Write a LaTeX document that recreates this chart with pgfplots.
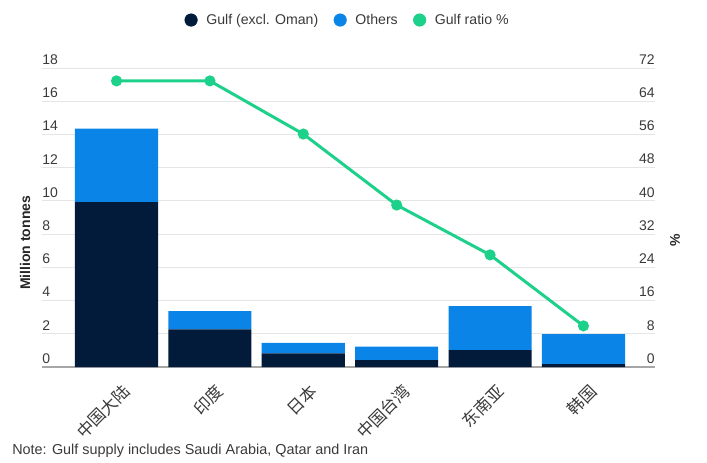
\documentclass[border=0pt]{standalone}
\usepackage{pgfplots}
\pgfplotsset{compat=1.18}
\usepackage{fontspec}
\setmainfont{Liberation Sans}
\newfontfamily\cjk{Noto Sans CJK SC}
\definecolor{navyc}{HTML}{021B3A}
\definecolor{bluec}{HTML}{0B84E8}
\definecolor{greenc}{HTML}{1ED18B}
\definecolor{txt}{HTML}{3A3A3A}
\begin{document}
\begin{tikzpicture}
\path[use as bounding box] (-31.5pt,-71.25pt) rectangle (498.75pt,275.25pt);
\begin{axis}[
  at={(0pt,0pt)}, anchor=south west,
  scale only axis, width=459.75pt, height=224.25pt,
  xmin=-0.798, xmax=5.766, ymin=0, ymax=18,
  ybar stacked, bar width=0.89,
  axis x line*=bottom, axis y line*=left,
  x axis line style={draw=black!35, line width=0.8pt},
  y axis line style={draw=none},
  xtick={0,1,2,3,4,5},
  xticklabels={中国大陆,印度,日本,中国台湾,东南亚,韩国},
  xtick style={draw=none}, ytick style={draw=none},
  ytick={0,2,...,18},
  ymajorgrids, grid style={black!10, line width=0.6pt},
  /pgf/number format/assume math mode=true,
  yticklabel style={anchor=south west, inner sep=0pt, yshift=2.5pt, font=\fontsize{10.5}{12}\selectfont, text=txt},
  xticklabel style={xshift=8.5pt, yshift=-15pt, rotate=45, anchor=east, inner sep=1pt, font=\cjk\fontsize{12.5}{14}\selectfont, text=txt},
  ylabel={Million tonnes},
  ylabel style={at={(axis description cs:-0.0277,0.415)}, anchor=center, font=\bfseries\fontsize{10.5}{12}\selectfont, text=black!85},
]
\addplot[fill=navyc, draw=none] coordinates {(0,9.93) (1,2.26) (2,0.82) (3,0.42) (4,1.02) (5,0.18)};
\addplot[fill=bluec, draw=none] coordinates {(0,4.42) (1,1.11) (2,0.64) (3,0.80) (4,2.65) (5,1.80)};
\end{axis}
\begin{axis}[
  at={(0pt,0pt)}, anchor=south west,
  scale only axis, width=459.75pt, height=224.25pt,
  xmin=-0.798, xmax=5.766, ymin=0, ymax=72,
  axis x line=none, axis y line*=right,
  y axis line style={draw=none}, ytick style={draw=none},
  ytick={0,8,...,72},
  /pgf/number format/assume math mode=true,
  yticklabel style={anchor=south east, inner sep=0pt, yshift=2.5pt, font=\fontsize{10.5}{12}\selectfont, text=txt},
  ylabel={\%},
  ylabel style={at={(axis description cs:1.0326,0.425)}, anchor=center, font=\bfseries\fontsize{10.5}{12}\selectfont, text=black!85},
  legend style={at={(axis description cs:0.504,1.1605)}, anchor=center, draw=none, fill=none,
    font=\fontsize{10.6}{12}\selectfont, text=txt,
    nodes={inner xsep=6.5pt},
    /tikz/every even column/.append style={column sep=5pt}},
  legend columns=3,
]
\addlegendimage{legend image code/.code={\fill[navyc] (0pt,0pt) circle (4.7pt);}}
\addlegendentry{Gulf (excl. Oman)}
\addlegendimage{legend image code/.code={\fill[bluec] (0pt,0pt) circle (4.7pt);}}
\addlegendentry{Others}
\addlegendimage{legend image code/.code={\fill[greenc] (0pt,0pt) circle (4.7pt);}}
\addlegendentry{Gulf ratio \%}
\addplot[greenc, line width=2.25pt, mark=*, mark size=3pt, mark options={fill=greenc, draw=greenc}, forget plot]
  coordinates {(0,68.9) (1,68.9) (2,56.1) (3,39.0) (4,27.0) (5,9.9)};
\end{axis}
\node[anchor=west, inner sep=0pt, font=\fontsize{10.8}{12}\selectfont, text=txt] at (-22.5pt,-63pt) {Note: Gulf supply includes Saudi Arabia, Qatar and Iran};
\end{tikzpicture}
\end{document}
